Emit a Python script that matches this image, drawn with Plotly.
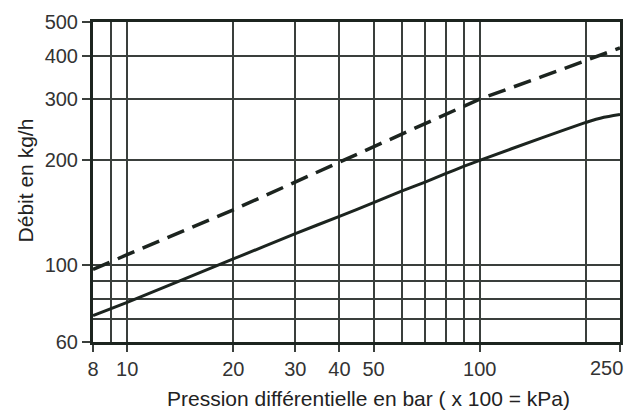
import math
import plotly.graph_objects as go

# Data
pressure_solid = [8, 10, 20, 30, 40, 50, 60, 70, 80, 90, 100, 150, 200, 225, 250]
flow_solid = [71.5, 78, 104, 123, 138, 151, 163, 173, 183, 192, 200, 232, 257, 266, 271]

pressure_dashed = [8, 10, 20, 30, 40, 50, 60, 70, 80, 90, 100, 150, 200, 218, 250]
flow_dashed = [97, 107, 144, 173, 197, 218, 237, 255, 271, 286, 300, 348, 387, 400, 421]

x_tick_vals = [8, 10, 20, 30, 40, 50, 100, 250]
x_tick_text = ["8", "10", "20", "30", "40", "50", "100", "250"]
x_minor_grid = [9, 60, 70, 80, 90, 200]

y_tick_vals = [60, 100, 200, 300, 400, 500]
y_tick_text = ["60", "100", "200", "300", "400", "500"]
y_minor_grid = [70, 80, 90]

ink = "#1c241f"
grid = "#3a3f3c"
font_family = "Arial, Liberation Sans, sans-serif"

# the last x label sits left of its tick in the reference; draw it as an annotation
axis_x_text = x_tick_text[:-1] + [""]
last_x_val = x_tick_vals[-1]
last_x_text = x_tick_text[-1]

fig = go.Figure()
fig.add_trace(go.Scatter(x=pressure_dashed, y=flow_dashed, mode="lines",
                         line=dict(color=ink, width=3.5, dash="18px,9px"),
                         showlegend=False, hoverinfo="skip"))
fig.add_trace(go.Scatter(x=pressure_solid, y=flow_solid, mode="lines",
                         line=dict(color=ink, width=3, shape="spline", smoothing=0.3),
                         showlegend=False, hoverinfo="skip"))

fig.update_xaxes(type="log", range=[math.log10(8), math.log10(250)],
                 tickmode="array", tickvals=x_tick_vals, ticktext=axis_x_text,
                 ticks="outside", ticklen=7, tickwidth=1.5, tickcolor=grid,
                 ticklabeloverflow="allow", automargin=False,
                 showgrid=True, gridcolor=grid, gridwidth=1.6,
                 minor=dict(tickmode="array", tickvals=x_minor_grid, showgrid=True,
                            gridcolor=grid, gridwidth=1.6, ticks=""),
                 showline=True, linecolor=ink, linewidth=3, mirror=True,
                 zeroline=False,
                 tickfont=dict(family=font_family, size=20, color="#333333"))
fig.update_yaxes(type="log", range=[math.log10(60), math.log10(500)],
                 tickmode="array", tickvals=y_tick_vals, ticktext=y_tick_text,
                 ticks="outside", ticklen=8, tickwidth=1.5, tickcolor=grid,
                 ticklabeloverflow="allow", automargin=False,
                 showgrid=True, gridcolor=grid, gridwidth=1.6,
                 minor=dict(tickmode="array", tickvals=y_minor_grid, showgrid=True,
                            gridcolor=grid, gridwidth=1.6, ticks=""),
                 showline=True, linecolor=ink, linewidth=3, mirror=True,
                 zeroline=False,
                 tickfont=dict(family=font_family, size=20, color="#333333"))

fig.add_annotation(text=last_x_text, xref="x", yref="paper",
                   x=math.log10(last_x_val), y=-0.082,
                   xanchor="right", yanchor="middle", xshift=5,
                   showarrow=False,
                   font=dict(family=font_family, size=20, color="#333333"))
fig.add_annotation(text="Pression différentielle en bar ( x 100 = kPa)",
                   xref="paper", yref="paper", x=0.522, y=-0.178,
                   showarrow=False, xanchor="center", yanchor="middle",
                   font=dict(family=font_family, size=21, color="#222222"))
fig.add_annotation(text="Débit en kg/h", textangle=-90,
                   xref="paper", yref="paper", x=-0.129, y=0.505,
                   showarrow=False, xanchor="center", yanchor="middle",
                   font=dict(family=font_family, size=21, color="#222222"))

fig.update_layout(width=634, height=410,
                  margin=dict(l=93, r=14, t=22, b=68, autoexpand=False),
                  paper_bgcolor="white", plot_bgcolor="white")

fig.write_html("out.html", config={"displayModeBar": False},
               post_script="document.body.style.margin='0';")
